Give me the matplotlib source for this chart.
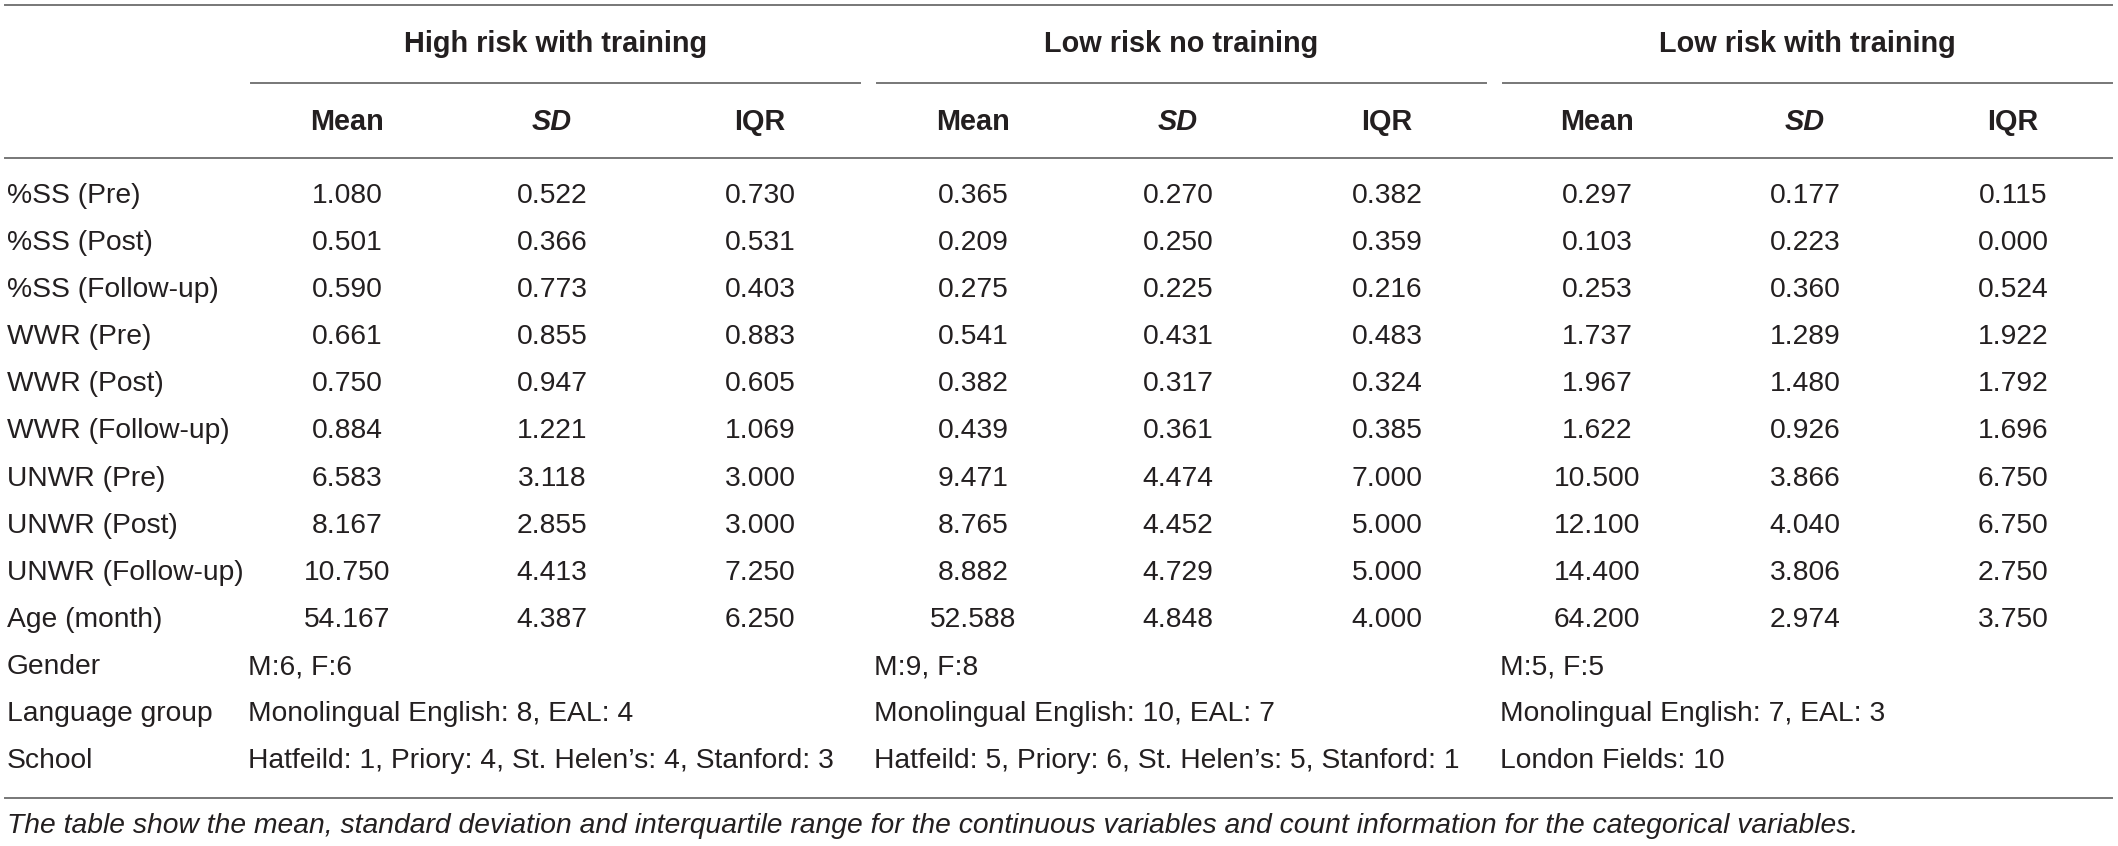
import matplotlib.pyplot as plt

groups = ['High risk with training', 'Low risk no training', 'Low risk with training']
stats = ['Mean', 'SD', 'IQR']

row_labels = ['%SS (Pre)', '%SS (Post)', '%SS (Follow-up)',
              'WWR (Pre)', 'WWR (Post)', 'WWR (Follow-up)',
              'UNWR (Pre)', 'UNWR (Post)', 'UNWR (Follow-up)', 'Age (month)']

high_train_mean = [1.080, 0.501, 0.590, 0.661, 0.750, 0.884, 6.583, 8.167, 10.750, 54.167]
high_train_sd = [0.522, 0.366, 0.773, 0.855, 0.947, 1.221, 3.118, 2.855, 4.413, 4.387]
high_train_iqr = [0.730, 0.531, 0.403, 0.883, 0.605, 1.069, 3.000, 3.000, 7.250, 6.250]

low_none_mean = [0.365, 0.209, 0.275, 0.541, 0.382, 0.439, 9.471, 8.765, 8.882, 52.588]
low_none_sd = [0.270, 0.250, 0.225, 0.431, 0.317, 0.361, 4.474, 4.452, 4.729, 4.848]
low_none_iqr = [0.382, 0.359, 0.216, 0.483, 0.324, 0.385, 7.000, 5.000, 5.000, 4.000]

low_train_mean = [0.297, 0.103, 0.253, 1.737, 1.967, 1.622, 10.500, 12.100, 14.400, 64.200]
low_train_sd = [0.177, 0.223, 0.360, 1.289, 1.480, 0.926, 3.866, 4.040, 3.806, 2.974]
low_train_iqr = [0.115, 0.000, 0.524, 1.922, 1.792, 1.696, 6.750, 6.750, 2.750, 3.750]

cat_labels = ['Gender', 'Language group', 'School']
gender = ['M:6, F:6', 'M:9, F:8', 'M:5, F:5']
language = ['Monolingual English: 8, EAL: 4', 'Monolingual English: 10, EAL: 7',
            'Monolingual English: 7, EAL: 3']
school = ['Hatfeild: 1, Priory: 4, St. Helen\u2019s: 4, Stanford: 3',
          'Hatfeild: 5, Priory: 6, St. Helen\u2019s: 5, Stanford: 1',
          'London Fields: 10']

caption = ('The table show the mean, standard deviation and interquartile range for the '
           'continuous variables and count information for the categorical variables.')

columns = [high_train_mean, high_train_sd, high_train_iqr,
           low_none_mean, low_none_sd, low_none_iqr,
           low_train_mean, low_train_sd, low_train_iqr]

plt.rcParams['font.family'] = ['Liberation Sans', 'DejaVu Sans']
TXT = '#231f20'
LINE = '#777777'
FS = 20.3
FS_HEAD = 20.8

W, H = 2118, 846
fig = plt.figure(figsize=(W / 100, H / 100), dpi=100)
ax = fig.add_axes([0, 0, 1, 1])
ax.set_xlim(0, W)
ax.set_ylim(H, 0)
ax.axis('off')

# layout in pixels
left = 7
group_x0 = [251, 877, 1503]
group_w = 609
col_x = [347, 552, 760, 973, 1178, 1387, 1597, 1805, 2013]
row_y0 = 196
row_h = 47.1

# horizontal rules
ax.plot([5, 2112], [5, 5], color=LINE, lw=1.4)
ax.plot([5, 2112], [158, 158], color=LINE, lw=1.4)
ax.plot([5, 2112], [798, 798], color=LINE, lw=1.4)
for x0 in group_x0:
    ax.plot([x0, x0 + group_w], [83, 83], color=LINE, lw=1.4)

# headers
for g, x0 in zip(groups, group_x0):
    ax.text(x0 + group_w / 2, 44, g, ha='center', va='center', fontsize=FS_HEAD,
            fontweight='bold', color=TXT)
for i, x in enumerate(col_x):
    s = stats[i % 3]
    ax.text(x, 122, s, ha='center', va='center', fontsize=FS_HEAD, fontweight='bold',
            fontstyle='italic' if s == 'SD' else 'normal', color=TXT)

# continuous rows
for r, lab in enumerate(row_labels):
    y = row_y0 + r * row_h
    ax.text(left, y, lab, ha='left', va='center', fontsize=FS, color=TXT)
    for x, col in zip(col_x, columns):
        ax.text(x, y, f'{col[r]:.3f}', ha='center', va='center', fontsize=FS, color=TXT)

# categorical rows
for k, (lab, vals) in enumerate(zip(cat_labels, [gender, language, school])):
    y = row_y0 + (len(row_labels) + k) * row_h
    ax.text(left, y, lab, ha='left', va='center', fontsize=FS, color=TXT)
    for x0, v in zip(group_x0, vals):
        ax.text(x0 - 3, y, v, ha='left', va='center', fontsize=FS, color=TXT)

ax.text(left, 826, caption, ha='left', va='center', fontsize=FS,
        fontstyle='italic', color=TXT)

fig.savefig('out.png', dpi=100)
